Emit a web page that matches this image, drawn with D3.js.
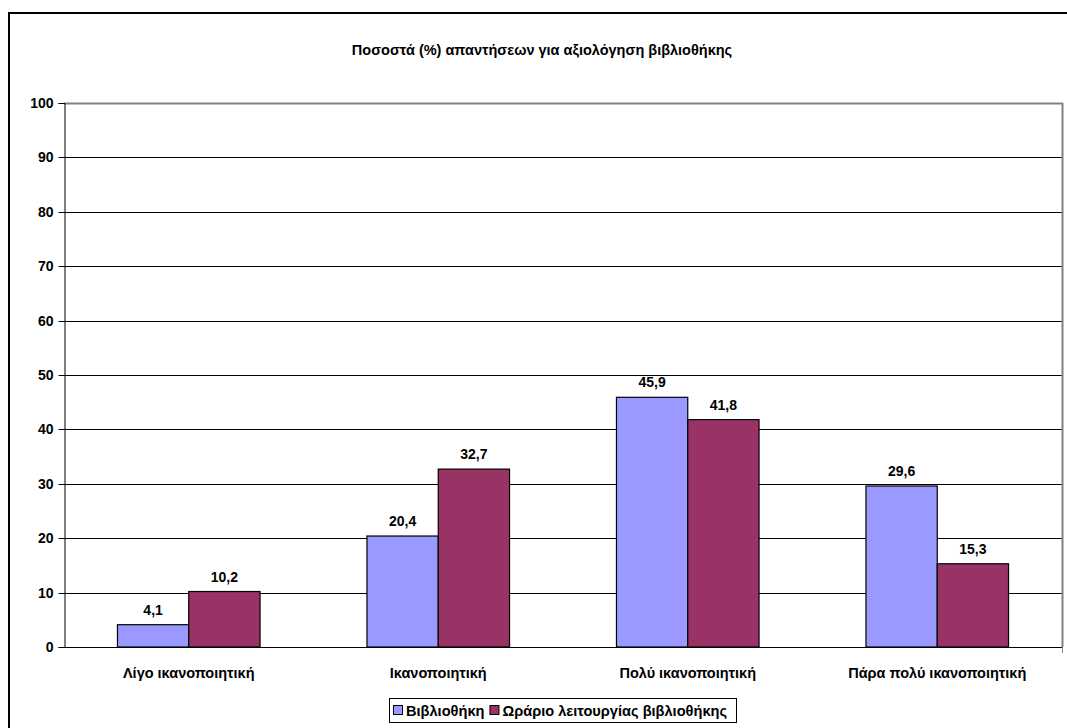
<!DOCTYPE html>
<html><head><meta charset="utf-8">
<script src="https://cdn.jsdelivr.net/npm/d3@7"></script>
<style>body{margin:0;background:#fff}svg{display:block;font-family:"Liberation Sans",Arial,sans-serif}</style>
</head><body>
<svg id="c" width="1067" height="728"></svg>
<script>
const title = "Ποσοστά (%) απαντήσεων για αξιολόγηση βιβλιοθήκης";
const categories = ["Λίγο ικανοποιητική","Ικανοποιητική","Πολύ ικανοποιητική","Πάρα πολύ ικανοποιητική"];
const seriesNames = ["Βιβλιοθήκη","Ωράριο λειτουργίας βιβλιοθήκης"];
const seriesColors = ["#9999FF","#993366"];
const library = [4.1,20.4,45.9,29.6];
const hours = [10.2,32.7,41.8,15.3];
const yTicks = [0,10,20,30,40,50,60,70,80,90,100];

const svg = d3.select("#c");
const L = 64, R = 1062, T = 103, B = 647;
// outer frame
svg.append("rect").attr("x",9).attr("y",13).attr("width",1070).attr("height",730)
  .attr("fill","none").attr("stroke","#000").attr("stroke-width",2);

svg.append("text").attr("x",542).attr("y",55).attr("text-anchor","middle")
  .attr("font-size",14.5).attr("font-weight","bold").text(title);

const x = d3.scaleBand().domain(categories).range([L,R]);
const y = d3.scaleLinear().domain([0,100]).range([B,T]);
const bw = x.bandwidth()/3.5;
const xs = d3.scaleBand().domain([0,1]).range([0,2*bw]);

// gridlines
svg.append("g").selectAll("line").data(yTicks.slice(1)).join("line")
  .attr("x1",L).attr("x2",R).attr("y1",d=>Math.round(y(d))+0.5).attr("y2",d=>Math.round(y(d))+0.5)
  .attr("stroke","#000").attr("stroke-width",1);
// plot border right/top
svg.append("line").attr("x1",R+0.5).attr("x2",R+0.5).attr("y1",T).attr("y2",B)
  .attr("stroke","#808080").attr("stroke-width",2);
svg.append("line").attr("x1",L).attr("x2",R+1).attr("y1",T+0.5).attr("y2",T+0.5)
  .attr("stroke","#808080").attr("stroke-width",2);

// y axis
const ya = svg.append("g").attr("transform",`translate(${L+0.5},0)`)
  .call(d3.axisLeft(y).tickValues(yTicks).tickSize(6).tickPadding(5).tickFormat(d3.format("d")));
ya.select(".domain").attr("stroke","#000");
ya.selectAll(".tick line").attr("stroke","#000");
ya.selectAll("text").attr("font-size",14).attr("font-weight","bold").attr("fill","#000")
  .attr("font-family","Liberation Sans, Arial, sans-serif");
ya.selectAll(".tick").attr("transform",d=>`translate(0,${Math.round(y(d))+0.5})`);

// bars
const data = [library, hours];
data.forEach((vals,si)=>{
  const g = svg.append("g");
  g.selectAll("rect").data(categories).join("rect")
    .attr("x",(c)=>x(c)+x.bandwidth()/2 - bw + xs(si))
    .attr("y",(c,i)=>y(vals[i]))
    .attr("width",bw)
    .attr("height",(c,i)=>B - y(vals[i]))
    .attr("fill",seriesColors[si]).attr("stroke","#000").attr("stroke-width",1.2);
  g.selectAll("text").data(categories).join("text")
    .attr("x",(c)=>x(c)+x.bandwidth()/2 - bw + xs(si) + bw/2)
    .attr("y",(c,i)=>y(vals[i]) - 10)
    .attr("text-anchor","middle").attr("font-size",14).attr("font-weight","bold")
    .text((c,i)=>String(vals[i]).replace(".",","));
});

// x axis line
svg.append("line").attr("x1",L).attr("x2",R+1).attr("y1",B+0.5).attr("y2",B+0.5)
  .attr("stroke","#000").attr("stroke-width",1);
svg.append("line").attr("x1",R+0.5).attr("x2",R+0.5).attr("y1",B).attr("y2",B+6).attr("stroke","#808080");
// category labels
svg.append("g").selectAll("text").data(categories).join("text")
  .attr("x",c=>x(c)+x.bandwidth()/2).attr("y",678)
  .attr("text-anchor","middle").attr("font-size",14.5).attr("font-weight","bold").text(c=>c);

// legend
const lg = svg.append("g");
lg.append("rect").attr("x",389.5).attr("y",698.5).attr("width",347).attr("height",24)
  .attr("fill","#fff").attr("stroke","#000").attr("stroke-width",1);
let lx = 393;
seriesNames.forEach((n,i)=>{
  lg.append("rect").attr("x",lx+0.5).attr("y",705.5).attr("width",9).attr("height",9)
    .attr("fill",seriesColors[i]).attr("stroke","#000").attr("stroke-width",1);
  const t = lg.append("text").attr("x",lx+13).attr("y",716).attr("font-size",14.6)
    .attr("font-weight","bold").text(n);
  lx += 13 + t.node().getComputedTextLength() + 5;
});
</script>
</body></html>
